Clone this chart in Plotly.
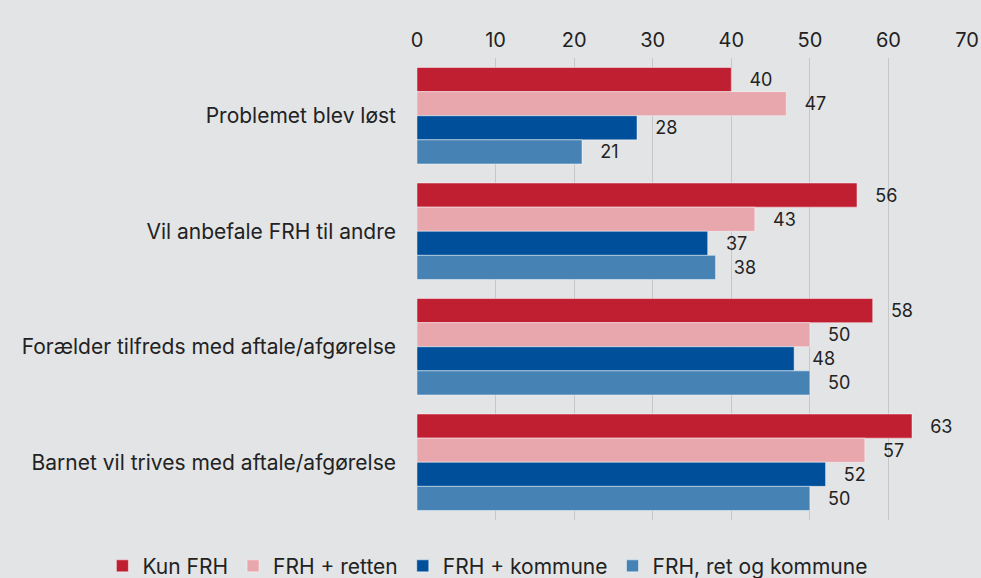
import plotly.graph_objects as go

categories = ["Problemet blev løst", "Vil anbefale FRH til andre",
              "Forælder tilfreds med aftale/afgørelse", "Barnet vil trives med aftale/afgørelse"]
series_names = ["Kun FRH", "FRH + retten", "FRH + kommune", "FRH, ret og kommune"]
kun_frh = [40, 56, 58, 63]
frh_retten = [47, 43, 50, 57]
frh_kommune = [28, 37, 48, 52]
frh_ret_kommune = [21, 38, 50, 50]
colors = ["#c01f32", "#e8a6ad", "#004f9b", "#4682b4"]
tick_vals = [0, 10, 20, 30, 40, 50, 60, 70]

FONT = "Inter, Noto Sans, sans-serif"
fig = go.Figure()
for name, vals, col in zip(series_names, [kun_frh, frh_retten, frh_kommune, frh_ret_kommune], colors):
    fig.add_trace(go.Bar(
        y=categories, x=vals, name=name, orientation="h",
        marker=dict(color=col, line=dict(color="rgba(255,255,255,0.45)", width=1)),
        text=vals, texttemplate="   %{x}", textposition="outside",
        textfont=dict(size=18, color="#222222", family=FONT),
        cliponaxis=False,
    ))

fig.update_layout(
    width=981, height=578,
    paper_bgcolor="#e3e4e6", plot_bgcolor="#e3e4e6",
    barmode="group", bargap=0.165, bargroupgap=0,
    margin=dict(l=417, r=14, t=58, b=58, autoexpand=False),
    font=dict(family=FONT, size=20, color="#222222"),
    showlegend=True,
    legend=dict(orientation="h", x=-0.572, xanchor="left", y=-0.1, yanchor="middle",
                font=dict(size=21, color="#222222"), traceorder="normal",
                bgcolor="rgba(0,0,0,0)"),
    xaxis=dict(side="top", range=[0, 70], tickvals=tick_vals, showgrid=True,
               gridcolor="#c6c7c9", gridwidth=1, zeroline=False, showline=False,
               tickfont=dict(size=20), ticks="", ticklabelstandoff=6, automargin=False),
    yaxis=dict(autorange="reversed", showgrid=False, ticks="", ticklabelstandoff=20,
               tickfont=dict(size=21), automargin=False),
)
fig.write_html("out.html", config={"displayModeBar": False},
               post_script="document.body.style.margin='0';")
